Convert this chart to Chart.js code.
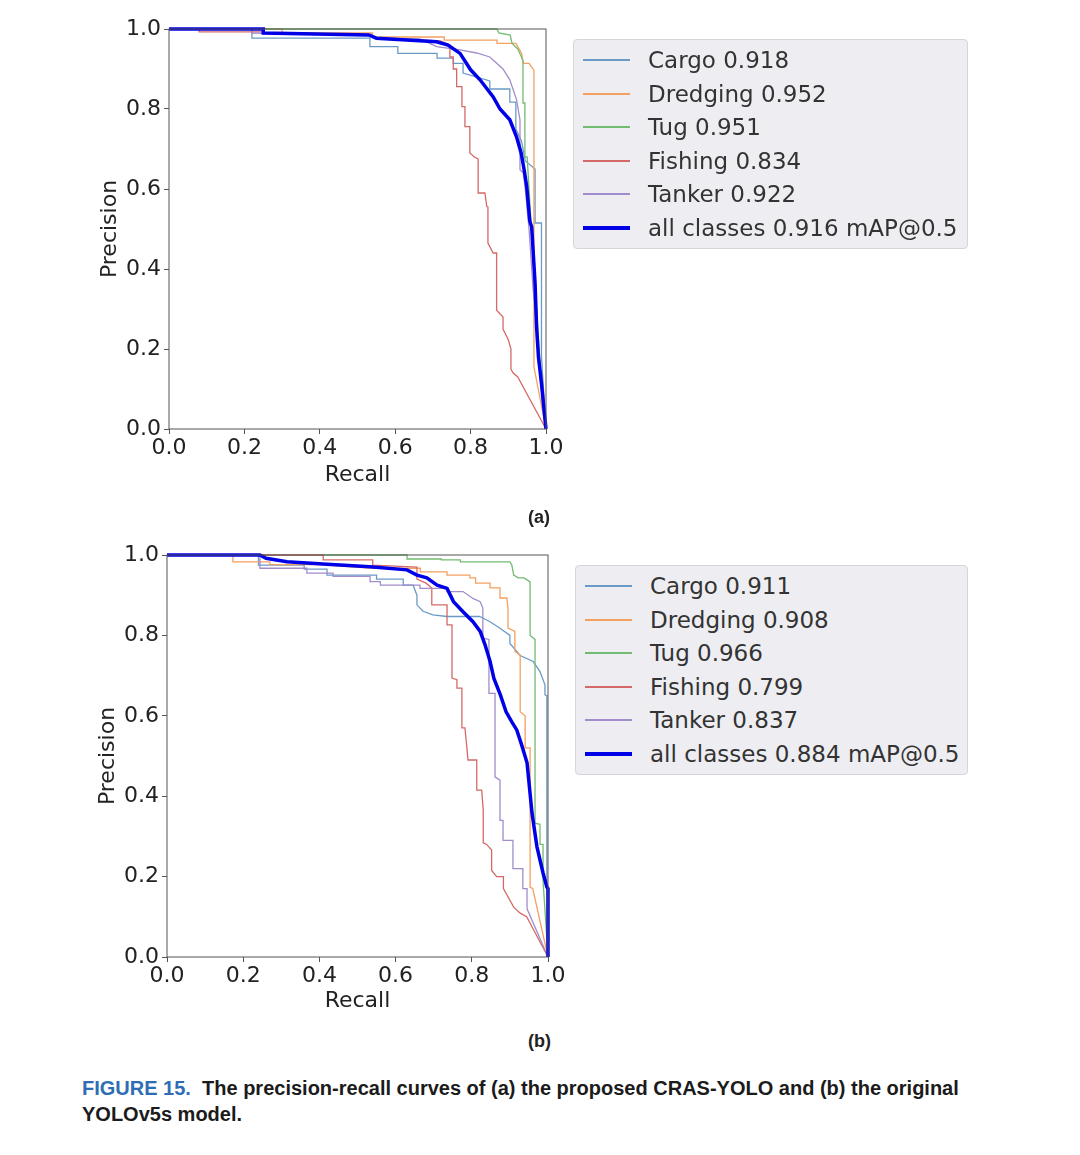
<!DOCTYPE html>
<html lang="en">
<head>
  <meta charset="UTF-8">
  <title>Precision-Recall Curves</title>
  <script src="https://cdn.jsdelivr.net/npm/chart.js"></script>
  <style>
    body {
      margin: 0;
      background: #fff;
      font-family: 'DejaVu Sans', sans-serif;
      width: 1080px;
      height: 1155px;
      position: relative;
      overflow: hidden;
    }
    canvas { position: absolute; }
    .legend {
      position: absolute;
      background: #eeeef2;
      border: 1px solid #d6d6da;
      border-radius: 4px;
      box-sizing: border-box;
    }
    .legend .row {
      position: absolute;
      left: 0;
      height: 30px;
      display: flex;
      align-items: center;
      font-size: 23px;
      color: #333;
      white-space: nowrap;
    }
    .legend .swatch {
      display: inline-block;
      width: 47px;
      margin-left: 9px;
      margin-right: 18px;
    }
    .panel {
      position: absolute;
      font-family: 'Liberation Sans', sans-serif;
      font-weight: bold;
      font-size: 18px;
      color: #222;
    }
    .caption {
      position: absolute;
      left: 82px;
      top: 1075px;
      font-family: 'Liberation Sans', sans-serif;
      font-weight: bold;
      font-size: 20px;
      line-height: 26px;
      color: #1b1b1b;
    }
    .caption .fig { color: #2e6db3; }
  </style>
</head>
<body>
  <canvas id="chartA" width="480" height="500" style="left:95px; top:0px;"></canvas>
  <canvas id="chartB" width="480" height="500" style="left:93px; top:526px;"></canvas>

  <div class="legend" id="legendA" style="left:573px; top:39px; width:395px; height:210px;"></div>
  <div class="legend" id="legendB" style="left:575px; top:565px; width:393px; height:210px;"></div>

  <div class="panel" style="left:528px; top:507px;">(a)</div>
  <div class="panel" style="left:528px; top:1031px;">(b)</div>

  <div class="caption"><span class="fig">FIGURE 15.</span>&nbsp; The precision-recall curves of (a) the proposed CRAS-YOLO and (b) the original<br>YOLOv5s model.</div>

  <script>
    // class names and AP values shown in legends
    const classNames = ['Cargo', 'Dredging', 'Tug', 'Fishing', 'Tanker', 'all classes'];
    const apA = ['0.918', '0.952', '0.951', '0.834', '0.922', '0.916'];
    const apB = ['0.911', '0.908', '0.966', '0.799', '0.837', '0.884'];
    const axisTicks = [0, 0.2, 0.4, 0.6, 0.8, 1.0];

    // (a) CRAS-YOLO, points are [recall, precision]
    const aCargo = [[0,1],[0.22,1],[0.22,0.977],[0.533,0.977],[0.533,0.956],[0.607,0.956],[0.607,0.939],[0.711,0.939],[0.711,0.927],[0.754,0.927],[0.754,0.914],[0.78,0.914],[0.78,0.89],[0.851,0.87],[0.851,0.85],[0.904,0.85],[0.904,0.817],[0.92,0.817],[0.92,0.75],[0.935,0.72],[0.945,0.67],[0.971,0.65],[0.971,0.515],[0.988,0.515],[0.988,0.18],[1,0]];
    const aDredging = [[0,1],[0.3,1],[0.3,0.99],[0.54,0.99],[0.54,0.98],[0.73,0.98],[0.73,0.972],[0.87,0.972],[0.87,0.964],[0.92,0.964],[0.935,0.94],[0.94,0.914],[0.955,0.914],[0.968,0.897],[0.968,0.155],[1,0]];
    const aTug = [[0,1],[0.87,1],[0.875,0.99],[0.905,0.985],[0.91,0.964],[0.925,0.95],[0.935,0.93],[0.939,0.92],[0.939,0.815],[0.944,0.815],[0.944,0.68],[0.95,0.68],[0.955,0.6],[0.963,0.47],[0.972,0.35],[0.985,0.15],[1,0]];
    const aFishing = [[0,1],[0.08,1],[0.08,0.993],[0.25,0.993],[0.25,0.99],[0.53,0.985],[0.55,0.977],[0.72,0.97],[0.745,0.96],[0.745,0.93],[0.754,0.93],[0.754,0.9],[0.763,0.9],[0.763,0.856],[0.777,0.856],[0.777,0.806],[0.785,0.806],[0.785,0.756],[0.798,0.756],[0.798,0.69],[0.81,0.68],[0.82,0.675],[0.82,0.59],[0.838,0.59],[0.843,0.556],[0.846,0.555],[0.846,0.465],[0.86,0.44],[0.869,0.44],[0.869,0.297],[0.886,0.28],[0.886,0.25],[0.9,0.223],[0.907,0.2],[0.907,0.15],[0.913,0.14],[0.925,0.13],[1,0]];
    const aTanker = [[0,1],[0.22,1],[0.22,0.99],[0.53,0.985],[0.55,0.977],[0.666,0.975],[0.71,0.956],[0.772,0.948],[0.816,0.94],[0.851,0.93],[0.886,0.9],[0.904,0.873],[0.922,0.823],[0.931,0.773],[0.931,0.648],[0.94,0.64],[0.945,0.6],[0.955,0.5],[0.965,0.36],[0.975,0.25],[0.985,0.12],[1,0]];
    const aAll = [[0,1],[0.25,1],[0.25,0.99],[0.53,0.985],[0.55,0.977],[0.71,0.968],[0.74,0.96],[0.772,0.939],[0.8,0.898],[0.825,0.873],[0.86,0.83],[0.878,0.8],[0.904,0.773],[0.922,0.73],[0.934,0.69],[0.942,0.648],[0.949,0.605],[0.957,0.52],[0.962,0.505],[0.971,0.364],[0.975,0.255],[0.98,0.18],[0.988,0.114],[0.993,0.065],[1,0]];

    // (b) YOLOv5s
    const bCargo = [[0,1],[0.24,1],[0.24,0.975],[0.36,0.975],[0.36,0.965],[0.42,0.965],[0.42,0.95],[0.55,0.95],[0.55,0.94],[0.62,0.94],[0.62,0.925],[0.646,0.925],[0.656,0.9],[0.656,0.876],[0.672,0.86],[0.698,0.851],[0.735,0.847],[0.82,0.847],[0.848,0.834],[0.874,0.818],[0.9,0.8],[0.9,0.78],[0.927,0.75],[0.961,0.735],[0.979,0.71],[0.992,0.677],[0.992,0.652],[0.997,0.65],[0.997,0.19],[1,0]];
    const bDredging = [[0,1],[0.173,1],[0.173,0.983],[0.27,0.983],[0.27,0.976],[0.4,0.976],[0.54,0.967],[0.665,0.967],[0.665,0.958],[0.735,0.958],[0.735,0.95],[0.795,0.95],[0.795,0.943],[0.81,0.943],[0.81,0.93],[0.848,0.93],[0.848,0.918],[0.874,0.918],[0.874,0.893],[0.892,0.893],[0.895,0.868],[0.895,0.818],[0.913,0.81],[0.913,0.76],[0.927,0.751],[0.927,0.61],[0.94,0.6],[0.94,0.52],[0.953,0.52],[0.953,0.174],[0.96,0.17],[1,0]];
    const bTug = [[0,1],[0.63,1],[0.63,0.99],[0.72,0.99],[0.72,0.988],[0.77,0.988],[0.77,0.983],[0.9,0.983],[0.905,0.975],[0.91,0.95],[0.922,0.943],[0.937,0.943],[0.953,0.933],[0.953,0.8],[0.966,0.79],[0.966,0.333],[0.979,0.33],[0.979,0.28],[0.987,0.28],[0.987,0.19],[1,0]];
    const bFishing = [[0,1],[0.41,1],[0.41,0.988],[0.54,0.988],[0.54,0.975],[0.656,0.97],[0.656,0.94],[0.68,0.93],[0.695,0.918],[0.695,0.876],[0.735,0.876],[0.735,0.826],[0.748,0.826],[0.748,0.694],[0.761,0.69],[0.761,0.669],[0.774,0.669],[0.774,0.57],[0.782,0.57],[0.787,0.522],[0.79,0.49],[0.813,0.49],[0.813,0.415],[0.826,0.415],[0.83,0.366],[0.83,0.284],[0.839,0.28],[0.852,0.266],[0.852,0.216],[0.865,0.2],[0.883,0.2],[0.883,0.17],[0.91,0.124],[0.927,0.109],[0.944,0.1],[1,0]];
    const bTanker = [[0,1],[0.244,1],[0.244,0.967],[0.367,0.967],[0.367,0.955],[0.436,0.955],[0.436,0.947],[0.533,0.947],[0.533,0.934],[0.56,0.934],[0.56,0.925],[0.664,0.925],[0.664,0.917],[0.735,0.917],[0.735,0.909],[0.777,0.909],[0.803,0.892],[0.822,0.884],[0.829,0.868],[0.829,0.793],[0.845,0.79],[0.845,0.656],[0.861,0.656],[0.861,0.448],[0.874,0.44],[0.874,0.34],[0.882,0.34],[0.882,0.29],[0.908,0.29],[0.908,0.22],[0.934,0.22],[0.934,0.17],[0.945,0.17],[0.945,0.12],[1,0]];
    const bAll = [[0,1],[0.244,1],[0.26,0.992],[0.315,0.983],[0.42,0.977],[0.533,0.971],[0.63,0.963],[0.656,0.95],[0.682,0.943],[0.709,0.925],[0.735,0.917],[0.752,0.884],[0.777,0.859],[0.803,0.834],[0.822,0.81],[0.835,0.776],[0.848,0.735],[0.858,0.693],[0.875,0.652],[0.89,0.61],[0.905,0.585],[0.918,0.565],[0.931,0.527],[0.945,0.483],[0.958,0.358],[0.971,0.274],[0.987,0.209],[0.997,0.174],[1,0.17],[1,0]];

    const lineColors = ['#6a9bc8', '#f4a060', '#74bb72', '#d46a67', '#a28ccb', '#0000e8'];
    const lineWidths = [1.3, 1.3, 1.3, 1.3, 1.3, 3.5];

    // box round the plot like matplotlib spines
    const frame = {
      id: 'frame',
      afterDraw(chart) {
        const a = chart.chartArea, c = chart.ctx;
        c.save();
        c.strokeStyle = '#555';
        c.lineWidth = 1;
        c.strokeRect(a.left, a.top, a.right - a.left, a.bottom - a.top);
        c.restore();
      }
    };

    function makeChart(id, series, xHeight) {
      const datasets = series.map((pts, i) => ({
        label: classNames[i],
        data: pts,
        borderColor: lineColors[i],
        borderWidth: lineWidths[i],
        pointRadius: 0,
        tension: 0,
        fill: false,
        clip: false,
        order: series.length - 1 - i
      }));
      const tickFont = { family: 'DejaVu Sans', size: 22 };
      return new Chart(document.getElementById(id), {
        type: 'line',
        data: { datasets },
        plugins: [frame],
        options: {
          responsive: false,
          animation: false,
          layout: { padding: { top: 29, left: 0, right: id === 'chartA' ? 29 : 25, bottom: 8 } },
          plugins: { legend: { display: false }, tooltip: { enabled: false } },
          scales: {
            x: {
              type: 'linear', min: 0, max: 1,
              afterBuildTicks: s => { s.ticks = axisTicks.map(v => ({ value: v })); },
              afterFit: s => { s.height = xHeight; },
              grid: { drawOnChartArea: false, tickLength: 5, color: '#555' },
              border: { display: false },
              ticks: { font: tickFont, color: '#222', padding: 1, maxRotation: 0, callback: v => v.toFixed(1) },
              title: { display: true, text: 'Recall', font: tickFont, color: '#222', padding: 4 }
            },
            y: {
              type: 'linear', min: 0, max: 1,
              afterBuildTicks: s => { s.ticks = axisTicks.map(v => ({ value: v })); },
              afterFit: s => { s.width = 74; },
              grid: { drawOnChartArea: false, tickLength: 5, color: '#555' },
              border: { display: false },
              ticks: { font: tickFont, color: '#222', padding: 3, callback: v => v.toFixed(1) },
              title: { display: true, text: 'Precision', font: tickFont, color: '#222', padding: 2 }
            }
          }
        }
      });
    }

    function makeLegend(id, ap) {
      const box = document.getElementById(id);
      classNames.forEach((name, i) => {
        const row = document.createElement('div');
        row.className = 'row';
        row.style.top = (5 + i * 33.6) + 'px';
        const sw = document.createElement('span');
        sw.className = 'swatch';
        sw.style.height = (i === 5 ? 4 : 2) + 'px';
        sw.style.background = lineColors[i];
        row.appendChild(sw);
        row.appendChild(document.createTextNode(name + ' ' + ap[i] + (i === 5 ? ' mAP@0.5' : '')));
        box.appendChild(row);
      });
    }

    makeChart('chartA', [aCargo, aDredging, aTug, aFishing, aTanker, aAll], 63);
    makeChart('chartB', [bCargo, bDredging, bTug, bFishing, bTanker, bAll], 61);
    makeLegend('legendA', apA);
    makeLegend('legendB', apB);
  </script>
</body>
</html>
